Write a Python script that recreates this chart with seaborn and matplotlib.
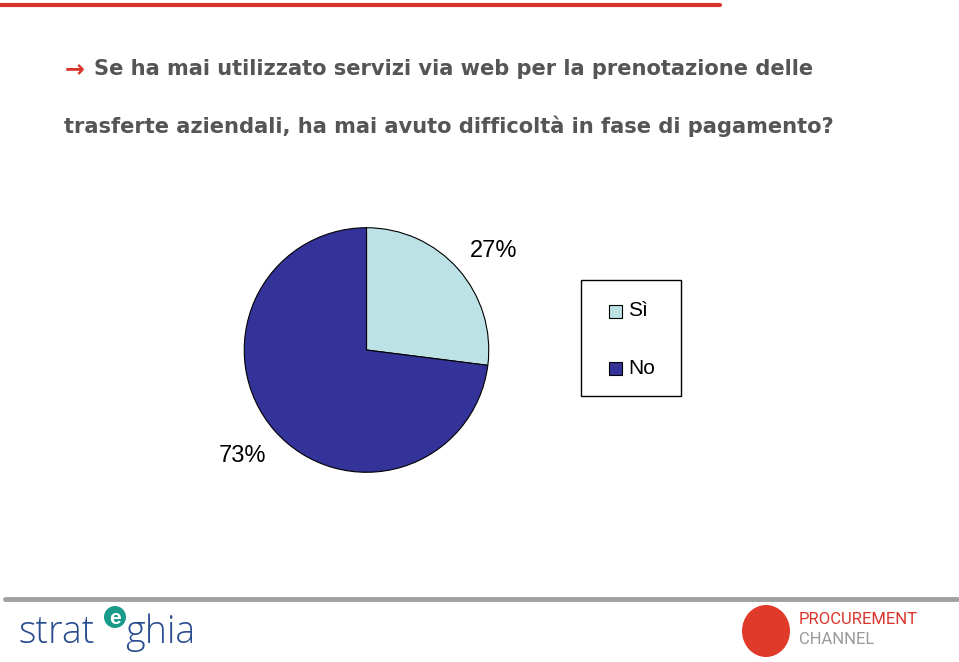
import matplotlib
matplotlib.use("Agg")
import matplotlib.pyplot as plt
import seaborn as sns
from matplotlib.patches import Rectangle, Ellipse
from matplotlib.lines import Line2D

sns.set_theme(style="white")
plt.rcParams['font.family'] = ['Liberation Sans', 'DejaVu Sans']
plt.rcParams['text.color'] = 'black'

categories = ["Sì", "No"]
values = [27, 73]
labels_pct = ["27%", "73%"]
colors = ["#BCE2E5", "#333399"]
title_lines = ["Se ha mai utilizzato servizi via web per la prenotazione delle",
               "trasferte aziendali, ha mai avuto difficoltà in fase di pagamento?"]

W, H = 959, 662
fig = plt.figure(figsize=(W / 100, H / 100), dpi=100)
fig.patch.set_facecolor("white")

def fx(x):
    return x / W

def fy(y):
    return 1 - y / H

# top red line and bottom gray line
fig.add_artist(Line2D([fx(0), fx(720)], [fy(5), fy(5)], color="#D9342B", lw=3))
fig.add_artist(Line2D([fx(5), fx(957)], [fy(599), fy(599)], color="#A0A0A0", lw=3.5))

# title
fig.text(fx(65), fy(69), "→", color="#D9342B", fontsize=17, va="center", ha="left",
         family="DejaVu Sans", fontweight="bold")
fig.text(fx(94), fy(69), title_lines[0], color="#555555", fontsize=15.1, va="center",
         ha="left", family="DejaVu Sans", fontweight="bold")
fig.text(fx(64), fy(126), title_lines[1], color="#555555", fontsize=15.1, va="center",
         ha="left", family="DejaVu Sans", fontweight="bold")

# pie
ax = fig.add_axes([fx(243), fy(474), fx(490) - fx(243), (474 - 226) / H])
wedges, _ = ax.pie(values, colors=colors, startangle=90, counterclock=False,
                   wedgeprops=dict(edgecolor="black", linewidth=0.8))
ax.set_aspect("equal")
ax.set_xlim(-1.01, 1.01)
ax.set_ylim(-1.01, 1.01)
ax.axis("off")

fig.text(fx(494), fy(251), labels_pct[0], fontsize=17, ha="center", va="center")
fig.text(fx(242), fy(456), labels_pct[1], fontsize=17, ha="center", va="center")

# legend box
fig.add_artist(Rectangle((fx(581), fy(396)), fx(681) - fx(581), (396 - 280) / H,
                         transform=fig.transFigure, facecolor="white",
                         edgecolor="black", lw=1))
for name, col, yc in zip(categories, colors, [311, 368]):
    fig.add_artist(Rectangle((fx(609), fy(yc + 7)), 13 / W, 13 / H,
                             transform=fig.transFigure, facecolor=col,
                             edgecolor="black", lw=0.8))
    fig.text(fx(628), fy(yc), name, fontsize=15, ha="left", va="center")

# logos
fig.text(fx(19), fy(633), "strat", color="#2A4D8F", fontsize=27, ha="left", va="center",
         family="Open Sans", fontweight="light")
fig.add_artist(Ellipse((fx(115), fy(617)), 22 / W, 22 / H, transform=fig.transFigure,
                       facecolor="#1A9A8A", edgecolor="none"))
fig.text(fx(115), fy(618), "e", color="white", fontsize=15, ha="center", va="center",
         fontweight="bold")
fig.text(fx(125), fy(633), "ghia", color="#2A4D8F", fontsize=27, ha="left", va="center",
         family="Open Sans", fontweight="light")

fig.add_artist(Ellipse((fx(766), fy(631)), 48 / W, 52 / H, transform=fig.transFigure,
                       facecolor="#E03A2A", edgecolor="none"))
fig.text(fx(799), fy(620), "PROCUREMENT", color="#D9342B", fontsize=12, ha="left",
         va="center", family="Roboto")
fig.text(fx(799), fy(639), "CHANNEL", color="#999999", fontsize=12, ha="left",
         va="center", family="Roboto")

fig.savefig("out.png", dpi=100, facecolor="white")
